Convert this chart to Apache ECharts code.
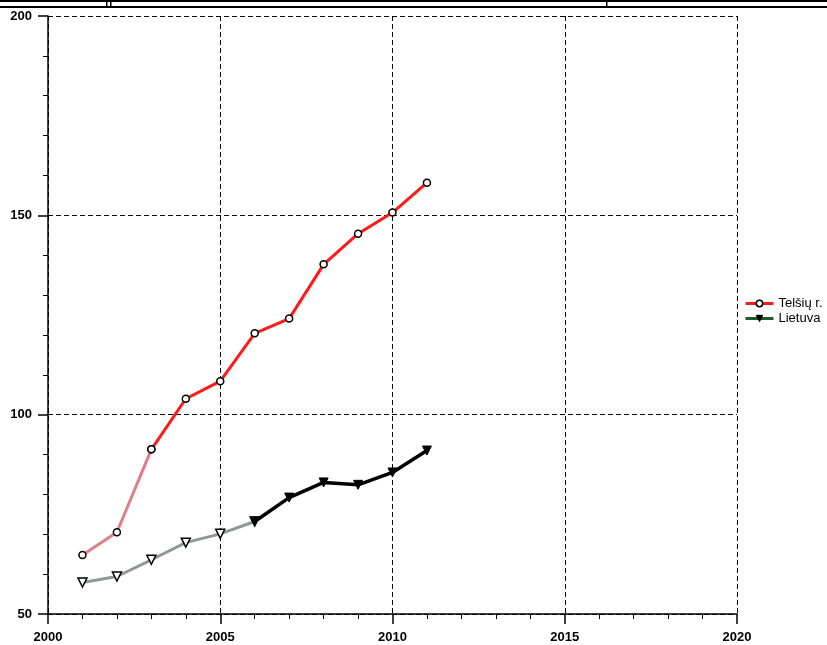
<!DOCTYPE html>
<html>
<head>
<meta charset="utf-8">
<script src="https://cdn.jsdelivr.net/npm/echarts@6/dist/echarts.min.js"></script>
<style>
  html, body { margin: 0; padding: 0; background: #fff; }
  #chart { width: 827px; height: 645px; }
</style>
</head>
<body>
<div id="chart"></div>
<script>
// Years and indicator values for the two regions
const years = [2001, 2002, 2003, 2004, 2005, 2006, 2007, 2008, 2009, 2010, 2011];
const telsiai = [64.8, 70.5, 91.3, 104.0, 108.4, 120.4, 124.1, 137.7, 145.4, 150.7, 158.2];
const lietuva = [57.9, 59.4, 63.6, 67.9, 70.1, 73.2, 79.2, 83.0, 82.4, 85.5, 91.0];
const seriesNames = ['Telšių r.', 'Lietuva'];
const xTicks = [2000, 2005, 2010, 2015, 2020];
const yTicks = [50, 100, 150, 200];

const pairs = (xs, ys) => xs.map((x, i) => [x, ys[i]]);
const telsiaiPts = pairs(years, telsiai);
const lietuvaPts = pairs(years, lietuva);

const FONT = 'Liberation Sans, Arial, sans-serif';

const chart = echarts.init(document.getElementById('chart'), null, { renderer: 'canvas' });

const axisCommon = {
  axisLine: { show: true, onZero: false, lineStyle: { color: '#000', width: 1.5 } },
  axisTick: { show: true, inside: false, length: 10, lineStyle: { color: '#000', width: 1.5 } },
  minorTick: { show: true, splitNumber: 5, length: 5, lineStyle: { color: '#000', width: 1 } },
  splitLine: { show: true, lineStyle: { color: '#000', width: 1, type: [5, 3] } },
  minorSplitLine: { show: false },
  axisLabel: { color: '#000', fontFamily: FONT, fontSize: 13, fontWeight: 'bold',
               formatter: v => String(v) }
};

chart.setOption({
  animation: false,
  backgroundColor: '#fff',
  grid: { left: 48, right: 90, top: 16, bottom: 31, containLabel: false },
  xAxis: Object.assign({}, axisCommon, {
    type: 'value',
    min: xTicks[0],
    max: xTicks[xTicks.length - 1],
    interval: 5,
    axisLabel: Object.assign({}, axisCommon.axisLabel, { margin: 17 })
  }),
  yAxis: Object.assign({}, axisCommon, {
    type: 'value',
    min: yTicks[0],
    max: yTicks[yTicks.length - 1],
    interval: 50,
    axisLabel: Object.assign({}, axisCommon.axisLabel, { margin: 16 })
  }),
  legend: {
    orient: 'vertical',
    left: 739,
    top: 292,
    itemWidth: 28,
    itemHeight: 8,
    itemGap: 2,
    textStyle: { color: '#000', fontFamily: FONT, fontSize: 13 },
    data: [
      { name: seriesNames[0],
        itemStyle: { color: '#fff', borderColor: '#000', borderWidth: 1.5 },
        lineStyle: { color: '#ff1a1a', width: 3 } },
      { name: seriesNames[1],
        itemStyle: { color: '#000', borderColor: '#000', borderWidth: 1 },
        lineStyle: { color: '#1e5a2c', width: 3 } }
    ]
  },
  series: [
    {
      // early segment, lighter tone
      name: seriesNames[0], type: 'line',
      data: telsiaiPts.slice(0, 3),
      symbol: 'circle', symbolSize: 7,
      lineStyle: { color: '#de7f86', width: 3 },
      itemStyle: { color: '#fff', borderColor: '#000', borderWidth: 1.5 },
      z: 3
    },
    {
      name: seriesNames[0], type: 'line',
      data: telsiaiPts.slice(2),
      symbol: 'circle', symbolSize: 7,
      lineStyle: { color: '#ff1a1a', width: 3 },
      itemStyle: { color: '#fff', borderColor: '#000', borderWidth: 1.5 },
      z: 3
    },
    {
      name: seriesNames[1], type: 'line',
      data: lietuvaPts.slice(0, 6),
      symbol: 'triangle', symbolRotate: 180, symbolSize: 9,
      lineStyle: { color: '#8c9a90', width: 3 },
      itemStyle: { color: '#fff', borderColor: '#000', borderWidth: 1.5 },
      z: 3
    },
    {
      name: seriesNames[1], type: 'line',
      data: lietuvaPts.slice(5),
      symbol: 'triangle', symbolRotate: 180, symbolSize: 9,
      lineStyle: { color: '#000', width: 3.5 },
      itemStyle: { color: '#000', borderColor: '#000', borderWidth: 1 },
      z: 3
    }
  ],
  graphic: [
    // header rules along the top edge
    { type: 'rect', shape: { x: 0, y: 0, width: 827, height: 2 }, style: { fill: '#000' } },
    { type: 'rect', shape: { x: 0, y: 6, width: 827, height: 2 }, style: { fill: '#000' } },
    { type: 'rect', shape: { x: 106, y: 0, width: 1.5, height: 7 }, style: { fill: '#000' } },
    { type: 'rect', shape: { x: 110, y: 0, width: 1.5, height: 7 }, style: { fill: '#000' } },
    { type: 'rect', shape: { x: 606, y: 0, width: 1.5, height: 7 }, style: { fill: '#000' } }
  ]
});
</script>
</body>
</html>
